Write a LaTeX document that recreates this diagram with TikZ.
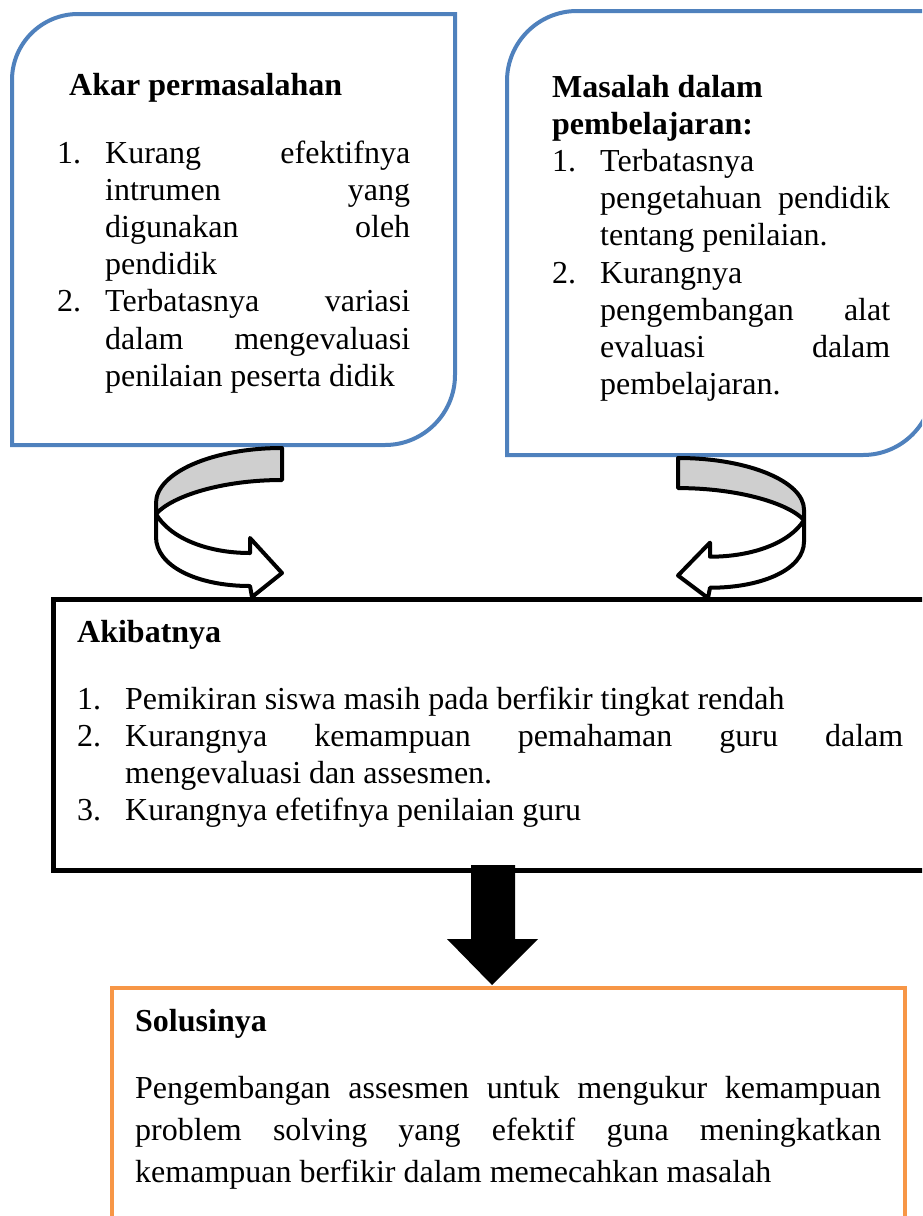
\documentclass[tikz,border=0pt]{standalone}
\usepackage{fontspec}
\setmainfont{Liberation Serif}
\definecolor{boxblue}{HTML}{4F81BD}
\definecolor{boxorange}{HTML}{F79646}
\definecolor{bandgrey}{HTML}{CFCFCF}
\newcommand\lstitem[1]{\par\hangindent=48pt\hangafter=1\noindent\makebox[48pt][l]{#1}}
\begin{document}
\begin{tikzpicture}[x=1pt,y=-1pt,
  bluebox/.style={draw=boxblue, line width=4pt, fill=white},
  blackbox/.style={draw=black, line width=5pt, fill=white},
  orangebox/.style={draw=boxorange, line width=4pt, fill=white},
  txt/.style={inner sep=0pt, anchor=base west, font=\fontsize{32}{37.2}\selectfont},
  headtxt/.style={txt, font=\fontsize{32}{37.2}\selectfont\bfseries},
  outline/.style={draw=black, line width=4pt, line join=round},
  uturn/.pic={
    \path[outline, fill=bandgrey] (0,0) -- (0,32) .. controls (-60,32) and (-110,48) .. (-126,66)
      -- (-126,55) .. controls (-126,25) and (-70,0) .. (0,0) -- cycle;
    \path[outline, fill=white] (-126,66) .. controls (-112,90) and (-75,105) .. (-32,105)
      -- (-32,90) -- (0,125) -- (-30,149) -- (-32,138)
      .. controls (-85,138) and (-126,118) .. (-126,89) -- cycle;
  }]
\useasboundingbox (0,0) rectangle (922,1216);
\clip (0,0) rectangle (922,1216);

% top boxes
\path[bluebox] (12,445) -- (12,80) .. controls (12,43.6) and (41.6,14) .. (78,14)
  -- (455,14) -- (455,375) .. controls (455,413.6) and (423.6,445) .. (385,445) -- cycle;
\path[bluebox] (507,455) -- (507,81) .. controls (507,42.4) and (538.4,11) .. (577,11)
  -- (933,11) -- (933,385) .. controls (933,423.6) and (901.6,455) .. (863,455) -- cycle;

\node[headtxt] (akar) at (69,95) {Akar permasalahan};
\node[txt] (akarlist) at (57,163) {\begin{minipage}[t]{353pt}\tolerance=10000
\lstitem{1.}Kurang efektifnya\linebreak intrumen yang\linebreak digunakan oleh\linebreak pendidik
\lstitem{2.}Terbatasnya variasi\linebreak dalam mengevaluasi\linebreak penilaian peserta didik
\end{minipage}};

\node[txt] (masalah) at (552,97) {\begin{minipage}[t]{338pt}\tolerance=10000
\noindent\textbf{Masalah dalam}\par\noindent\textbf{pembelajaran:}
\lstitem{1.}Terbatasnya\linebreak pengetahuan pendidik\linebreak tentang penilaian.
\lstitem{2.}Kurangnya\linebreak pengembangan alat\linebreak evaluasi dalam\linebreak pembelajaran.
\end{minipage}};

% curved arrows
\pic at (282,448) {uturn};
\pic[xscale=-1, yscale=0.94] at (678,458) {uturn};

% middle box
\path[blackbox] (53,599) rectangle (950,870);
\node[headtxt] (akibat) at (77,642) {Akibatnya};
\node[txt] (akibatlist) at (77,709) {\begin{minipage}[t]{826pt}\tolerance=10000
\lstitem{1.}Pemikiran siswa masih pada berfikir tingkat rendah
\lstitem{2.}Kurangnya kemampuan pemahaman guru dalam\linebreak mengevaluasi dan assesmen.
\lstitem{3.}Kurangnya efetifnya penilaian guru
\end{minipage}};

% down arrow
\coordinate (arrtop) at (493,865);
\coordinate (arrtip) at (492,985);
\fill[black] (471,865) -- (515,865) -- (515,939) -- (538,939) -- (arrtip) -- (447,939) -- (471,939) -- cycle;

% bottom box
\path[orangebox] (112,988) rectangle (905,1240);
\node[headtxt] (solusi) at (135,1031) {Solusinya};
\node[txt, font=\fontsize{32}{42}\selectfont] (solusitext) at (135,1098) {\begin{minipage}[t]{746pt}\tolerance=10000\noindent
Pengembangan assesmen untuk mengukur kemampuan\linebreak problem solving yang efektif guna meningkatkan\linebreak kemampuan berfikir dalam memecahkan masalah
\end{minipage}};
\end{tikzpicture}
\end{document}
